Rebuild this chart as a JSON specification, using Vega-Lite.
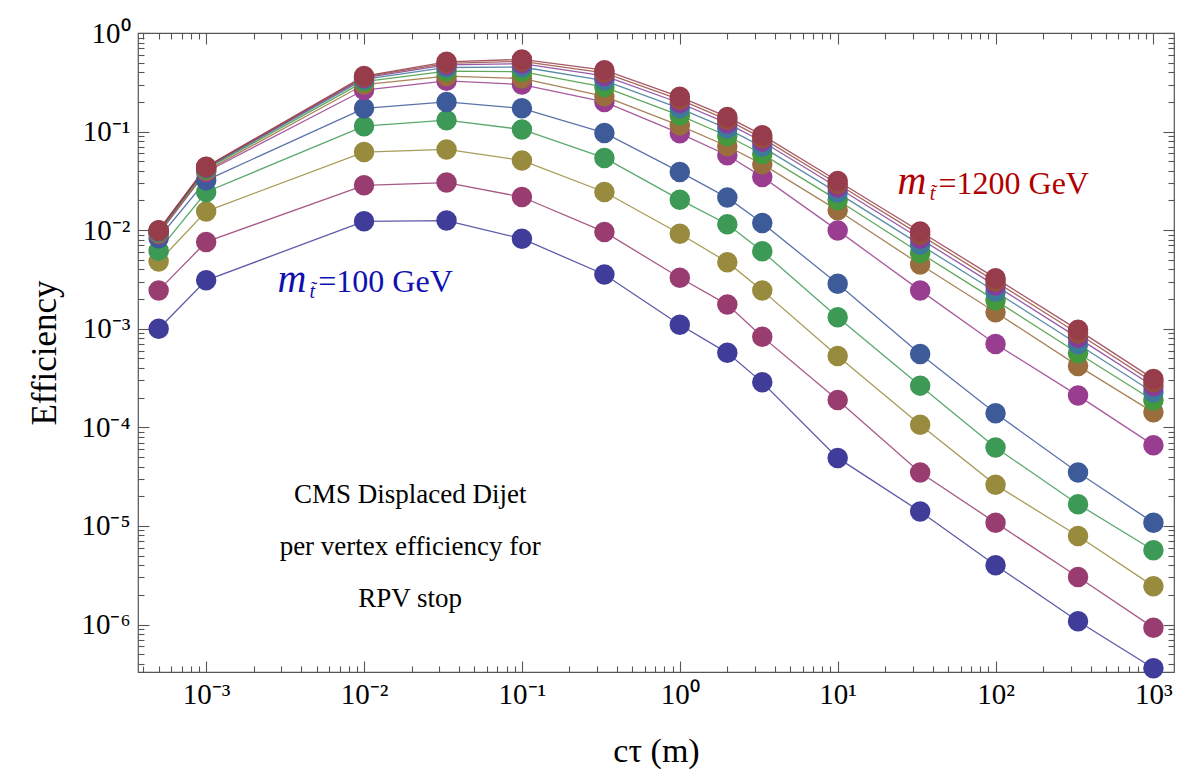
{
  "$schema": "https://vega.github.io/schema/vega-lite/v6.json",
  "width": 1036,
  "height": 639,
  "autosize": {"type": "none"},
  "padding": {"left": 138, "top": 33, "right": 4, "bottom": 99},
  "background": "white",
  "config": {
    "font": "Liberation Serif",
    "view": {"stroke": "#555", "strokeWidth": 1.2},
    "axis": {
      "domain": false, "grid": false, "tickColor": "#555", "tickWidth": 1.1,
      "labelFont": "Liberation Serif", "labelFontSize": 29, "labelColor": "#000",
      "titleFont": "Liberation Serif", "titleFontWeight": "normal", "titleColor": "#000",
      "labelOverlap": false, "labelFlush": false, "labelBound": false
    }
  },
  "datasets": {
    "eff": [
      {"m":100,"ct":0.0005,"e":1.0e-3},{"m":100,"ct":0.001,"e":3.1e-3},{"m":100,"ct":0.01,"e":1.23e-2},{"m":100,"ct":0.0333,"e":1.25e-2},{"m":100,"ct":0.1,"e":8.2e-3},{"m":100,"ct":0.333,"e":3.55e-3},{"m":100,"ct":1,"e":1.1e-3},{"m":100,"ct":2,"e":5.7e-4},{"m":100,"ct":3.33,"e":2.86e-4},{"m":100,"ct":10,"e":4.9e-5},{"m":100,"ct":33.3,"e":1.4e-5},{"m":100,"ct":100,"e":4.0e-6},{"m":100,"ct":333,"e":1.08e-6},{"m":100,"ct":1000,"e":3.6e-7},
      {"m":200,"ct":0.0005,"e":2.45e-3},{"m":200,"ct":0.001,"e":7.6e-3},{"m":200,"ct":0.01,"e":2.85e-2},{"m":200,"ct":0.0333,"e":3.04e-2},{"m":200,"ct":0.1,"e":2.17e-2},{"m":200,"ct":0.333,"e":9.6e-3},{"m":200,"ct":1,"e":3.29e-3},{"m":200,"ct":2,"e":1.76e-3},{"m":200,"ct":3.33,"e":8.3e-4},{"m":200,"ct":10,"e":1.89e-4},{"m":200,"ct":33.3,"e":3.48e-5},{"m":200,"ct":100,"e":1.08e-5},{"m":200,"ct":333,"e":3.03e-6},{"m":200,"ct":1000,"e":9.3e-7},
      {"m":300,"ct":0.0005,"e":4.8e-3},{"m":300,"ct":0.001,"e":1.55e-2},{"m":300,"ct":0.01,"e":6.2e-2},{"m":300,"ct":0.0333,"e":6.6e-2},{"m":300,"ct":0.1,"e":5.1e-2},{"m":300,"ct":0.333,"e":2.44e-2},{"m":300,"ct":1,"e":9.2e-3},{"m":300,"ct":2,"e":4.74e-3},{"m":300,"ct":3.33,"e":2.45e-3},{"m":300,"ct":10,"e":5.3e-4},{"m":300,"ct":33.3,"e":1.06e-4},{"m":300,"ct":100,"e":2.61e-5},{"m":300,"ct":333,"e":7.9e-6},{"m":300,"ct":1000,"e":2.45e-6},
      {"m":400,"ct":0.0005,"e":6.2e-3},{"m":400,"ct":0.001,"e":2.44e-2},{"m":400,"ct":0.01,"e":0.1135},{"m":400,"ct":0.0333,"e":0.1306},{"m":400,"ct":0.1,"e":0.105},{"m":400,"ct":0.333,"e":5.4e-2},{"m":400,"ct":1,"e":2.04e-2},{"m":400,"ct":2,"e":1.15e-2},{"m":400,"ct":3.33,"e":6.1e-3},{"m":400,"ct":10,"e":1.31e-3},{"m":400,"ct":33.3,"e":2.65e-4},{"m":400,"ct":100,"e":6.25e-5},{"m":400,"ct":333,"e":1.66e-5},{"m":400,"ct":1000,"e":5.66e-6},
      {"m":500,"ct":0.0005,"e":8.3e-3},{"m":500,"ct":0.001,"e":3.2e-2},{"m":500,"ct":0.01,"e":0.172},{"m":500,"ct":0.0333,"e":0.2},{"m":500,"ct":0.1,"e":0.172},{"m":500,"ct":0.333,"e":9.7e-2},{"m":500,"ct":1,"e":3.9e-2},{"m":500,"ct":2,"e":2.14e-2},{"m":500,"ct":3.33,"e":1.18e-2},{"m":500,"ct":10,"e":2.86e-3},{"m":500,"ct":33.3,"e":5.55e-4},{"m":500,"ct":100,"e":1.39e-4},{"m":500,"ct":333,"e":3.48e-5},{"m":500,"ct":1000,"e":1.08e-5},
      {"m":600,"ct":0.0005,"e":9.1e-3},{"m":600,"ct":0.001,"e":3.9e-2},{"m":600,"ct":0.01,"e":0.264},{"m":600,"ct":0.0333,"e":0.327},{"m":600,"ct":0.1,"e":0.30},{"m":600,"ct":0.333,"e":0.2},{"m":600,"ct":1,"e":0.096},{"m":600,"ct":2,"e":5.76e-2},{"m":600,"ct":3.33,"e":3.47e-2},{"m":600,"ct":10,"e":9.95e-3},{"m":600,"ct":33.3,"e":2.45e-3},{"m":600,"ct":100,"e":7.0e-4},{"m":600,"ct":333,"e":2.1e-4},{"m":600,"ct":1000,"e":6.6e-5},
      {"m":700,"ct":0.0005,"e":9.3e-3},{"m":700,"ct":0.001,"e":4.0e-2},{"m":700,"ct":0.01,"e":0.30},{"m":700,"ct":0.0333,"e":0.365},{"m":700,"ct":0.1,"e":0.346},{"m":700,"ct":0.333,"e":0.228},{"m":700,"ct":1,"e":0.115},{"m":700,"ct":2,"e":7.1e-2},{"m":700,"ct":3.33,"e":4.67e-2},{"m":700,"ct":10,"e":1.59e-2},{"m":700,"ct":33.3,"e":4.49e-3},{"m":700,"ct":100,"e":1.47e-3},{"m":700,"ct":333,"e":4.2e-4},{"m":700,"ct":1000,"e":1.42e-4},
      {"m":800,"ct":0.0005,"e":9.5e-3},{"m":800,"ct":0.001,"e":4.15e-2},{"m":800,"ct":0.01,"e":0.321},{"m":800,"ct":0.0333,"e":0.41},{"m":800,"ct":0.1,"e":0.405},{"m":800,"ct":0.333,"e":0.283},{"m":800,"ct":1,"e":0.146},{"m":800,"ct":2,"e":9.02e-2},{"m":800,"ct":3.33,"e":5.92e-2},{"m":800,"ct":10,"e":2.02e-2},{"m":800,"ct":33.3,"e":5.87e-3},{"m":800,"ct":100,"e":1.94e-3},{"m":800,"ct":333,"e":5.64e-4},{"m":800,"ct":1000,"e":1.87e-4},
      {"m":900,"ct":0.0005,"e":9.7e-3},{"m":900,"ct":0.001,"e":4.25e-2},{"m":900,"ct":0.01,"e":0.338},{"m":900,"ct":0.0333,"e":0.447},{"m":900,"ct":0.1,"e":0.452},{"m":900,"ct":0.333,"e":0.329},{"m":900,"ct":1,"e":0.172},{"m":900,"ct":2,"e":0.107},{"m":900,"ct":3.33,"e":7.01e-2},{"m":900,"ct":10,"e":2.39e-2},{"m":900,"ct":33.3,"e":7.13e-3},{"m":900,"ct":100,"e":2.37e-3},{"m":900,"ct":333,"e":6.97e-4},{"m":900,"ct":1000,"e":2.26e-4},
      {"m":1000,"ct":0.0005,"e":9.8e-3},{"m":1000,"ct":0.001,"e":4.32e-2},{"m":1000,"ct":0.01,"e":0.350},{"m":1000,"ct":0.0333,"e":0.474},{"m":1000,"ct":0.1,"e":0.489},{"m":1000,"ct":0.333,"e":0.367},{"m":1000,"ct":1,"e":0.195},{"m":1000,"ct":2,"e":0.121},{"m":1000,"ct":3.33,"e":7.93e-2},{"m":1000,"ct":10,"e":2.71e-2},{"m":1000,"ct":33.3,"e":8.18e-3},{"m":1000,"ct":100,"e":2.74e-3},{"m":1000,"ct":333,"e":8.09e-4},{"m":1000,"ct":1000,"e":2.61e-4},
      {"m":1100,"ct":0.0005,"e":9.9e-3},{"m":1100,"ct":0.001,"e":4.37e-2},{"m":1100,"ct":0.01,"e":0.358},{"m":1100,"ct":0.0333,"e":0.493},{"m":1100,"ct":0.1,"e":0.516},{"m":1100,"ct":0.333,"e":0.395},{"m":1100,"ct":1,"e":0.211},{"m":1100,"ct":2,"e":0.1315},{"m":1100,"ct":3.33,"e":8.59e-2},{"m":1100,"ct":10,"e":2.94e-2},{"m":1100,"ct":33.3,"e":8.97e-3},{"m":1100,"ct":100,"e":3.01e-3},{"m":1100,"ct":333,"e":8.95e-4},{"m":1100,"ct":1000,"e":2.86e-4},
      {"m":1200,"ct":0.0005,"e":1.0e-2},{"m":1200,"ct":0.001,"e":4.4e-2},{"m":1200,"ct":0.01,"e":0.366},{"m":1200,"ct":0.0333,"e":0.51},{"m":1200,"ct":0.1,"e":0.54},{"m":1200,"ct":0.333,"e":0.42},{"m":1200,"ct":1,"e":0.225},{"m":1200,"ct":2,"e":0.141},{"m":1200,"ct":3.33,"e":9.2e-2},{"m":1200,"ct":10,"e":3.15e-2},{"m":1200,"ct":33.3,"e":9.7e-3},{"m":1200,"ct":100,"e":3.26e-3},{"m":1200,"ct":333,"e":9.75e-4},{"m":1200,"ct":1000,"e":3.1e-4}
    ],
    "ann": [
      {"t": "=1200 GeV", "x": 43.5, "y": 0.0233},
      {"t": "=100 GeV", "x": 0.00513, "y": 0.00238}
    ],
    "note": [
      {"t": "CMS Displaced Dijet\nper vertex efficiency for\nRPV stop", "x": 0.0196, "y": 1.71e-5}
    ]
  },
  "layer": [
    {
      "data": {"name": "eff"},
      "mark": {"type": "line", "strokeWidth": 1.3, "opacity": 0.85},
      "encoding": {
        "x": {"field": "ct", "type": "quantitative", "scale": {"type": "log", "domain": [0.00037, 1350], "nice": false},
          "axis": {"orient": "bottom", "title": "cτ (m)", "titleFontSize": 34, "titlePadding": 20,
            "values": [0.0004,0.0005,0.0006,0.0007,0.0008,0.0009,0.001,0.002,0.003,0.004,0.005,0.006,0.007,0.008,0.009,0.01,0.02,0.03,0.04,0.05,0.06,0.07,0.08,0.09,0.1,0.2,0.3,0.4,0.5,0.6,0.7,0.8,0.9,1,2,3,4,5,6,7,8,9,10,20,30,40,50,60,70,80,90,100,200,300,400,500,600,700,800,900,1000],
            "labelExpr": "abs(log(datum.value)/LN10 - round(log(datum.value)/LN10)) < 0.01 ? '10' + (round(log(datum.value)/LN10) < 0 ? '⁻' : '') + ['⁰','¹','²','³','⁴','⁵','⁶','⁷','⁸','⁹'][abs(round(log(datum.value)/LN10))] : ''",
            "tickSize": {"condition": {"test": "abs(log(datum.value)/LN10 - round(log(datum.value)/LN10)) < 0.01", "value": -11}, "value": -6},
            "labelPadding": 19}},
        "y": {"field": "e", "type": "quantitative", "scale": {"type": "log", "domain": [3.3e-7, 1], "nice": false},
          "axis": {"orient": "left", "title": "Efficiency", "titleFontSize": 35, "titlePadding": 18,
            "values": [4e-7,5e-7,6e-7,7e-7,8e-7,9e-7,1e-6,2e-6,3e-6,4e-6,5e-6,6e-6,7e-6,8e-6,9e-6,1e-5,2e-5,3e-5,4e-5,5e-5,6e-5,7e-5,8e-5,9e-5,1e-4,2e-4,3e-4,4e-4,5e-4,6e-4,7e-4,8e-4,9e-4,0.001,0.002,0.003,0.004,0.005,0.006,0.007,0.008,0.009,0.01,0.02,0.03,0.04,0.05,0.06,0.07,0.08,0.09,0.1,0.2,0.3,0.4,0.5,0.6,0.7,0.8,0.9,1],
            "labelExpr": "abs(log(datum.value)/LN10 - round(log(datum.value)/LN10)) < 0.01 ? '10' + (round(log(datum.value)/LN10) < 0 ? '⁻' : '') + ['⁰','¹','²','³','⁴','⁵','⁶','⁷','⁸','⁹'][abs(round(log(datum.value)/LN10))] : ''",
            "tickSize": {"condition": {"test": "abs(log(datum.value)/LN10 - round(log(datum.value)/LN10)) < 0.01", "value": -11}, "value": -6},
            "labelPadding": 19}},
        "color": {"field": "m", "type": "nominal",
          "scale": {"domain": [100,200,300,400,500,600,700,800,900,1000,1100,1200],
            "range": ["#3f3d99","#993d71","#998b3d","#3d9956","#3d5a99","#993d90","#996d3d","#43993d","#3d7999","#843d99","#994e3d","#963c4b"]},
          "legend": null}
      }
    },
    {
      "data": {"name": "eff"},
      "mark": {"type": "circle", "size": 420, "opacity": 1},
      "encoding": {
        "x": {"field": "ct", "type": "quantitative", "scale": {"type": "log", "domain": [0.00037, 1350], "nice": false},
          "axis": {"orient": "top", "title": null, "labels": false,
            "values": [0.0004,0.0005,0.0006,0.0007,0.0008,0.0009,0.001,0.002,0.003,0.004,0.005,0.006,0.007,0.008,0.009,0.01,0.02,0.03,0.04,0.05,0.06,0.07,0.08,0.09,0.1,0.2,0.3,0.4,0.5,0.6,0.7,0.8,0.9,1,2,3,4,5,6,7,8,9,10,20,30,40,50,60,70,80,90,100,200,300,400,500,600,700,800,900,1000],
            "tickSize": {"condition": {"test": "abs(log(datum.value)/LN10 - round(log(datum.value)/LN10)) < 0.01", "value": -11}, "value": -6}}},
        "y": {"field": "e", "type": "quantitative", "scale": {"type": "log", "domain": [3.3e-7, 1], "nice": false},
          "axis": {"orient": "right", "title": null, "labels": false,
            "values": [4e-7,5e-7,6e-7,7e-7,8e-7,9e-7,1e-6,2e-6,3e-6,4e-6,5e-6,6e-6,7e-6,8e-6,9e-6,1e-5,2e-5,3e-5,4e-5,5e-5,6e-5,7e-5,8e-5,9e-5,1e-4,2e-4,3e-4,4e-4,5e-4,6e-4,7e-4,8e-4,9e-4,0.001,0.002,0.003,0.004,0.005,0.006,0.007,0.008,0.009,0.01,0.02,0.03,0.04,0.05,0.06,0.07,0.08,0.09,0.1,0.2,0.3,0.4,0.5,0.6,0.7,0.8,0.9,1],
            "tickSize": {"condition": {"test": "abs(log(datum.value)/LN10 - round(log(datum.value)/LN10)) < 0.01", "value": -11}, "value": -6}}},
        "color": {"field": "m", "type": "nominal", "legend": null}
      }
    },
    {
      "data": {"name": "ann"},
      "mark": {"type": "text", "align": "left", "baseline": "alphabetic", "fontSize": 32, "font": "Liberation Serif"},
      "encoding": {
        "x": {"field": "x", "type": "quantitative", "scale": {"type": "log", "domain": [0.00037, 1350], "nice": false}, "axis": null},
        "y": {"field": "y", "type": "quantitative", "scale": {"type": "log", "domain": [3.3e-7, 1], "nice": false}, "axis": null},
        "text": {"field": "t"},
        "color": {"condition": {"test": "datum.t == '=1200 GeV'", "value": "#b00000"}, "value": "#1010b0"}
      }
    },
    {
      "data": {"name": "ann"},
      "mark": {"type": "text", "align": "right", "baseline": "alphabetic", "fontSize": 40, "fontStyle": "italic", "font": "Liberation Serif", "dx": -12},
      "encoding": {
        "x": {"field": "x", "type": "quantitative", "scale": {"type": "log", "domain": [0.00037, 1350], "nice": false}, "axis": null},
        "y": {"field": "y", "type": "quantitative", "scale": {"type": "log", "domain": [3.3e-7, 1], "nice": false}, "axis": null},
        "text": {"value": "m"},
        "color": {"condition": {"test": "datum.t == '=1200 GeV'", "value": "#b00000"}, "value": "#1010b0"}
      }
    },
    {
      "data": {"name": "ann"},
      "mark": {"type": "text", "align": "center", "baseline": "alphabetic", "fontSize": 20, "fontStyle": "italic", "font": "Liberation Serif", "dx": -6, "dy": 6},
      "encoding": {
        "x": {"field": "x", "type": "quantitative", "scale": {"type": "log", "domain": [0.00037, 1350], "nice": false}, "axis": null},
        "y": {"field": "y", "type": "quantitative", "scale": {"type": "log", "domain": [3.3e-7, 1], "nice": false}, "axis": null},
        "text": {"value": "t̃"},
        "color": {"condition": {"test": "datum.t == '=1200 GeV'", "value": "#b00000"}, "value": "#1010b0"}
      }
    },
    {
      "data": {"name": "note"},
      "mark": {"type": "text", "align": "center", "baseline": "alphabetic", "fontSize": 27, "font": "Liberation Serif", "lineBreak": "\n", "lineHeight": 52, "color": "#000"},
      "encoding": {
        "x": {"field": "x", "type": "quantitative", "scale": {"type": "log", "domain": [0.00037, 1350], "nice": false}, "axis": null},
        "y": {"field": "y", "type": "quantitative", "scale": {"type": "log", "domain": [3.3e-7, 1], "nice": false}, "axis": null},
        "text": {"field": "t"}
      }
    }
  ],
  "resolve": {"axis": {"x": "independent", "y": "independent"}}
}
